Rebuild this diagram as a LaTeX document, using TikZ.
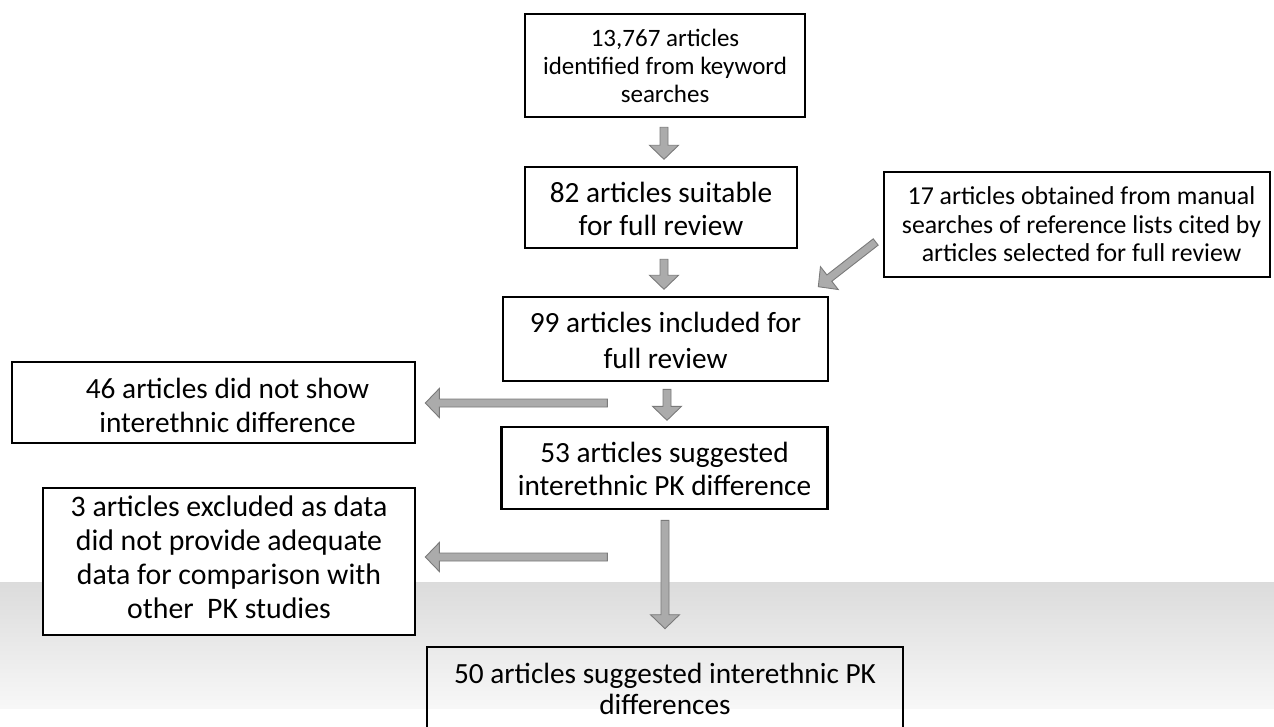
\documentclass[tikz,border=0pt]{standalone}
\usepackage{fontspec}
\setmainfont{Carlito}
\usetikzlibrary{calc}
\tikzset{
  box/.style={draw=black, line width=2.6pt, fill=white, align=center, inner sep=0pt},
  garrow/.style={fill=black!33, draw=black!52, line width=0.9pt, line join=miter},
}
\newcommand\topr[1]{\rule{0pt}{#1}}
\newcommand\botr[1]{\rule[-#1]{0pt}{#1}}
\newcommand\barrow[2]{%
  \coordinate (hb) at ($(#2)!14pt!(#1)$);
  \draw[garrow] ($(#1)!4pt!90:(#2)$) -- ($(hb)!4pt!90:(#2)$) -- ($(hb)!14.5pt!90:(#2)$) -- (#2)
     -- ($(hb)!14.5pt!-90:(#2)$) -- ($(hb)!4pt!-90:(#2)$) -- ($(#1)!4pt!-90:(#2)$) -- cycle;}
\begin{document}
\begin{tikzpicture}[x=1pt,y=-1pt]
\useasboundingbox (0,0) rectangle (1274,727);
\clip (0,0) rectangle (1274,727);
\fill[white] (0,0) rectangle (1274,727);
\shade[top color=black!14, bottom color=black!3] (0,582) rectangle (1274,708);

\node[box, minimum width=280pt, minimum height=103pt, font=\fontsize{25}{28}\selectfont] (b1) at (665,65.5)
  {\topr{28pt}13,767 articles\\identified from keyword\\searches\botr{9pt}};
\node[box, minimum width=272pt, minimum height=81pt, font=\fontsize{29.3}{33}\selectfont] (b2) at (661,207.5)
  {\topr{32pt}82 articles suitable\\for full review\botr{8pt}};
\node[box, minimum width=386pt, minimum height=105pt, font=\fontsize{25.8}{28.5}\selectfont] (b3) at (1077,224.5)
  {\hspace*{9pt}\topr{28pt}17 articles obtained from manual\\\hspace*{9pt}searches of reference lists cited by\\\hspace*{9pt}articles selected for full review\botr{10pt}};
\node[box, minimum width=325pt, minimum height=84pt, font=\fontsize{29.3}{36}\selectfont] (b4) at (665.5,339)
  {\topr{32pt}99 articles included for\\full review\botr{10pt}};
\node[box, minimum width=403pt, minimum height=81pt, font=\fontsize{29.3}{34}\selectfont] (b5) at (213.5,402.5)
  {\hspace*{28pt}\topr{32pt}46 articles did not show\\\hspace*{28pt}interethnic difference\botr{7pt}};
\node[box, minimum width=326pt, minimum height=82pt, font=\fontsize{29.3}{33}\selectfont] (b6) at (664.5,468)
  {\topr{32pt}53 articles suggested\\interethnic PK difference\botr{10pt}};
\node[box, minimum width=372pt, minimum height=147pt, font=\fontsize{29.8}{33.7}\selectfont] (b7) at (229,561.5)
  {\topr{28pt}3 articles excluded as data\\did not provide adequate\\data for comparison with\\other\ \ PK studies\botr{16pt}};
\node[box, fill=none, minimum width=476pt, minimum height=84pt, font=\fontsize{29.3}{31}\selectfont] (b8) at (665,689)
  {\topr{32pt}50 articles suggested interethnic PK\\differences\botr{13pt}};

\coordinate (a1s) at ($(b1.south)+(-1,9)$);
\coordinate (a1e) at ($(b1.south)+(-1,41)$);
\coordinate (a2s) at ($(b2.south)+(3,10)$);
\coordinate (a2e) at ($(b2.south)+(3,40)$);
\coordinate (dgs) at ($(b3.west)+(-7,17.5)$);
\coordinate (dge) at ($(b4.north east)+(-11,-9)$);
\coordinate (a3s) at ($(b4.south)+(1.5,7)$);
\coordinate (a3e) at ($(b4.south)+(1.5,38)$);
\coordinate (l1s) at ($(b5.east)+(191,0.5)$);
\coordinate (l1e) at ($(b5.east)+(9,0.5)$);
\coordinate (l2s) at ($(b7.east)+(191,-4.5)$);
\coordinate (l2e) at ($(b7.east)+(9,-4.5)$);
\coordinate (lgs) at ($(b6.south)+(0.5,10)$);
\coordinate (lge) at ($(b8.north)+(0,-17)$);

\barrow{a1s}{a1e}
\barrow{a2s}{a2e}
\barrow{dgs}{dge}
\barrow{a3s}{a3e}
\barrow{l1s}{l1e}
\barrow{l2s}{l2e}
\barrow{lgs}{lge}
\end{tikzpicture}
\end{document}
